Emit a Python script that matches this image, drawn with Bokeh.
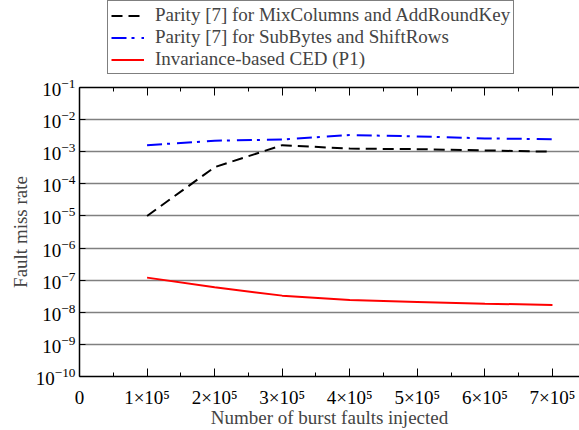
from bokeh.plotting import figure
from bokeh.layouts import column
from bokeh.models import (FixedTicker, LinearAxis, Legend, LegendItem,
                          CustomJSTickFormatter)
from bokeh.embed import file_html
from bokeh.resources import INLINE

# ---------------- data ----------------
bursts = [1e5, 2e5, 3e5, 4e5, 5e5, 6e5, 7e5]
parity_mix = [1.0e-5, 3.3e-4, 1.6e-3, 1.25e-3, 1.2e-3, 1.1e-3, 1.0e-3]
parity_sub = [1.6e-3, 2.2e-3, 2.4e-3, 3.3e-3, 3.0e-3, 2.6e-3, 2.45e-3]
invariance = [1.2e-7, 6.0e-8, 3.3e-8, 2.4e-8, 2.1e-8, 1.85e-8, 1.7e-8]

series_names = ["Parity [7] for MixColumns and AddRoundKey",
                "Parity [7] for SubBytes and ShiftRows",
                "Invariance-based CED (P1)"]

y_tick_values = [1e-10, 1e-9, 1e-8, 1e-7, 1e-6, 1e-5, 1e-4, 1e-3, 1e-2, 1e-1]
x_tick_values = [0, 100000, 200000, 300000, 400000, 500000, 600000, 700000]
x_minor_values = [50000, 150000, 250000, 350000, 450000, 550000, 650000, 750000]
x_tick_labels = ["0", "1×10⁵", "2×10⁵", "3×10⁵", "4×10⁵", "5×10⁵", "6×10⁵", "7×10⁵"]

FONT = "Liberation Serif"
STYLES = [dict(line_color="black", line_width=2, line_dash="11 6"),
          dict(line_color="#0000ff", line_width=2, line_dash="15 5 3 7"),
          dict(line_color="#ff0000", line_width=2)]
SERIES = [parity_mix, parity_sub, invariance]

# ---------------- main plot ----------------
p = figure(width=579, height=354, y_axis_type="log",
           x_range=(0, 7.4e5), y_range=(1e-10, 1e-1),
           output_backend="svg", toolbar_location=None,
           min_border_left=79, min_border_right=0,
           min_border_top=11, min_border_bottom=54)
p.outline_line_color = None
p.background_fill_color = "white"

p.xgrid.grid_line_color = None
p.ygrid.ticker = FixedTicker(ticks=y_tick_values, minor_ticks=[])
p.ygrid.grid_line_color = "#808080"
p.ygrid.grid_line_width = 1.3

ya = p.yaxis[0]
ya.ticker = FixedTicker(ticks=y_tick_values, minor_ticks=[])
ya.major_tick_in = 6
ya.major_tick_out = 0
ya.minor_tick_in = 0
ya.minor_tick_out = 0
ya.major_label_text_font = FONT
ya.major_label_text_font_size = "19px"
ya.major_label_text_color = "black"
ya.major_label_standoff = 4
ya.axis_line_color = "black"
ya.axis_line_width = 1.5
ya.axis_label = "Fault miss rate"
ya.axis_label_text_font = FONT
ya.axis_label_text_font_size = "19px"
ya.axis_label_text_font_style = "normal"
ya.axis_label_standoff = 2

xa = p.xaxis[0]
xa.ticker = FixedTicker(ticks=x_tick_values, minor_ticks=x_minor_values)
xa.major_label_overrides = {v: t for v, t in zip(x_tick_values, x_tick_labels)}
xa.major_tick_in = 8
xa.major_tick_out = 0
xa.minor_tick_in = 4
xa.minor_tick_out = 0
xa.major_label_text_font = FONT
xa.major_label_text_font_size = "19px"
xa.major_label_text_color = "black"
xa.major_label_standoff = 10
xa.axis_line_width = 1.5
xa.axis_label = "Number of burst faults injected"
xa.axis_label_text_font = FONT
xa.axis_label_text_font_size = "19px"
xa.axis_label_text_font_style = "normal"
xa.axis_label_standoff = -4

top = LinearAxis(ticker=FixedTicker(ticks=x_tick_values, minor_ticks=x_minor_values),
                 formatter=CustomJSTickFormatter(code="return ''"),
                 major_tick_in=8, major_tick_out=0, minor_tick_in=4, minor_tick_out=0,
                 major_label_standoff=0, major_label_text_font_size="1px",
                 axis_line_width=1.5)
p.add_layout(top, "above")

for vals, style in zip(SERIES, STYLES):
    p.line(bursts, vals, **style)

# ---------------- legend strip above the plot ----------------
# same series drawn with the same styles; the view range keeps them out of sight,
# only the legend of this strip is visible
leg = figure(width=579, height=76, x_range=(-2, -1), y_range=(-2, -1),
             output_backend="svg", toolbar_location=None,
             min_border_left=79, min_border_right=0,
             min_border_top=0, min_border_bottom=0)
leg.axis.visible = False
leg.grid.visible = False
leg.outline_line_color = None
items = []
for name, vals, style in zip(series_names, SERIES, STYLES):
    r = leg.line(bursts, vals, **style)
    items.append(LegendItem(label=name, renderers=[r]))

legend = Legend(items=items, location=(28, 2), orientation="vertical",
                label_text_font=FONT, label_text_font_size="19px",
                glyph_width=33, glyph_height=19, label_height=19, label_standoff=11,
                padding=3, spacing=0, margin=0,
                border_line_color="black", border_line_width=1,
                background_fill_color="white", background_fill_alpha=1)
leg.add_layout(legend, "center")

layout = column(leg, p, spacing=0)
open("out.html", "w").write(file_html(layout, INLINE))
